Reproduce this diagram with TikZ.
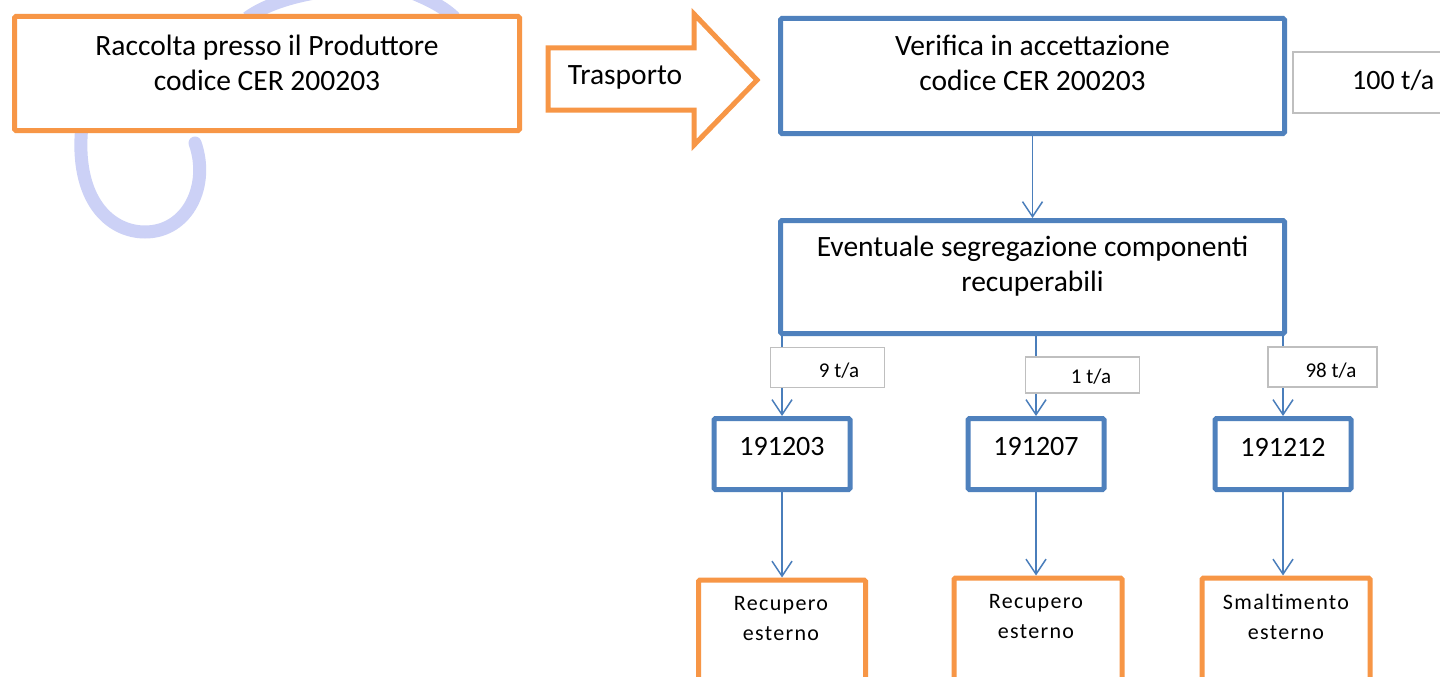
\documentclass[tikz,border=0pt]{standalone}
\usepackage{fontspec}
\setmainfont{Carlito}
\usetikzlibrary{arrows.meta,calc}
\definecolor{offorange}{RGB}{247,150,70}
\definecolor{offblue}{RGB}{79,129,189}
\definecolor{conblue}{RGB}{74,126,187}
\definecolor{lgray}{RGB}{191,191,191}
\definecolor{wmark}{RGB}{204,209,246}
\begin{document}
\begin{tikzpicture}[x=1pt,y=-1pt,
  bluebox/.style={draw=offblue,line width=5pt,fill=white,rounded corners=1.5pt,inner sep=0pt},
  orangebox/.style={draw=offorange,line width=5pt,fill=white,rounded corners=1.5pt,inner sep=0pt},
  graybox/.style={draw=lgray,line width=1.5pt,fill=white,inner sep=0pt},
  bigtxt/.style={font=\fontsize{29.5}{35}\selectfont,align=center,inner sep=0pt},
  numtxt/.style={font=\fontsize{28}{35}\selectfont,inner sep=0pt},
  smalltxt/.style={font=\fontsize{21}{24}\selectfont,inner sep=0pt},
  spacedtxt/.style={font=\fontsize{22}{30}\selectfont\addfontfeature{LetterSpace=6},align=center,inner sep=0pt},
  conn/.style={draw=conblue,line width=1.5pt,-{Straight Barb[length=15pt,width=20pt]}}
]
\useasboundingbox (0,0) rectangle (1440,677);
\clip (0,0) rectangle (1440,677);
\fill[white] (0,0) rectangle (1440,677);
% faint watermark
\draw[wmark,line width=13pt,line cap=round] (82,125) .. controls (74,200) and (110,232) .. (145,232) .. controls (188,232) and (210,185) .. (195,143);
\draw[wmark,line width=13pt] (247,18) .. controls (265,5) and (290,-3) .. (320,-8);
\draw[wmark,line width=13pt] (410,-8) .. controls (430,0) and (445,8) .. (455,18);
% top row
\node[orangebox,minimum width=505pt,minimum height=114pt] (b1) at (267,73.5) {};
\node[bigtxt] (t1) at ($(b1.center)+(0,-11)$) {Raccolta presso il Produttore\\codice CER 200203};
\draw[offorange,line width=5pt,fill=white] (548,48) -- (694,48) -- (694,14) -- (757,80) -- (694,145) -- (694,110) -- (548,110) -- cycle;
\node[bigtxt] (tr) at (625,77) {Trasporto};
\node[bluebox,minimum width=504pt,minimum height=115pt] (b2) at (1032.5,76) {};
\node[bigtxt] (t2) at ($(b2.center)+(0,-13.5)$) {Verifica in accettazione\\codice CER 200203};
\node[graybox,minimum width=196pt,minimum height=61pt] (g0) at (1391,82.5) {};
\node[numtxt,anchor=west] (tg0) at (1352,80) {100 t/a};
% second level
\node[bluebox,minimum width=504pt,minimum height=113pt] (b3) at (1032.5,277) {};
\node[bigtxt] (t3) at ($(b3.center)+(0,-10.5)$) {Eventuale segregazione componenti\\recuperabili};
\draw[conn] (b2.south) -- (b3.north);
% children
\node[bluebox,minimum width=136pt,minimum height=71pt] (c1) at (782,454) {};
\node[bluebox,minimum width=136pt,minimum height=71pt] (c2) at (1036,454) {};
\node[bluebox,minimum width=136pt,minimum height=71pt] (c3) at (1283,454) {};
\node[numtxt] (tc1) at ($(c1.center)+(0,-7)$) {191203};
\node[numtxt] (tc2) at ($(c2.center)+(0,-7)$) {191207};
\node[numtxt] (tc3) at ($(c3.center)+(0,-7)$) {191212};
\draw[conn] (b3.south -| c1.north) -- (c1.north);
\draw[conn] (b3.south -| c2.north) -- (c2.north);
\draw[conn] (b3.south -| c3.north) -- (c3.north);
% quantity labels
\node[graybox,minimum width=114pt,minimum height=40pt] (q1) at (827.5,367.5) {};
\node[smalltxt] (tq1) at (839,371) {9 t/a};
\node[graybox,minimum width=114pt,minimum height=36pt] (q2) at (1082.5,375) {};
\node[smalltxt] (tq2) at (1091,377) {1 t/a};
\node[graybox,minimum width=109pt,minimum height=40pt] (q3) at (1322.5,367) {};
\node[smalltxt] (tq3) at (1331,371) {98 t/a};
% final destinations
\node[orangebox,minimum width=167pt,minimum height=110pt] (o1) at (782,635) {};
\node[orangebox,minimum width=168pt,minimum height=112pt] (o2) at (1038,634) {};
\node[orangebox,minimum width=168pt,minimum height=112pt] (o3) at (1286,634) {};
\node[spacedtxt] (to1) at (781,619) {Recupero\\esterno};
\node[spacedtxt] (to2) at (1036,617) {Recupero\\esterno};
\node[spacedtxt] (to3) at (1286,617) {Smaltimento\\esterno};
\draw[conn] (c1.south) -- (c1.south |- o1.north);
\draw[conn] (c2.south) -- (c2.south |- o2.north);
\draw[conn] (c3.south) -- (c3.south |- o3.north);
\end{tikzpicture}
\end{document}
